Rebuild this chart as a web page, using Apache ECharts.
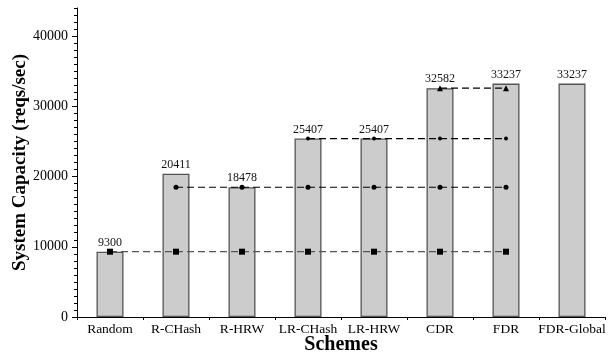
<!DOCTYPE html>
<html>
<head>
<meta charset="utf-8">
<script src="https://cdn.jsdelivr.net/npm/echarts@6/dist/echarts.min.js"></script>
<style>html,body{margin:0;padding:0;background:#fff;}#c{width:608px;height:354px;}</style>
</head>
<body>
<div id="c"></div>
<script>
const categories = ['Random', 'R-CHash', 'R-HRW', 'LR-CHash', 'LR-HRW', 'CDR', 'FDR', 'FDR-Global'];
const capacity = [9300, 20411, 18478, 25407, 25407, 32582, 33237, 33237];
const refRandom = [9300, 9300, 9300, 9300, 9300, 9300, 9300, null];
const refRHRW = [null, 18478, 18478, 18478, 18478, 18478, 18478, null];
const refLR = [null, null, null, 25407, 25407, 25407, 25407, null];
const refCDR = [null, null, null, null, null, 32582, 32582, null];
const yMajorTicks = [0, 10000, 20000, 30000, 40000];

const serif = '"Liberation Serif", "Times New Roman", serif';
const chart = echarts.init(document.getElementById('c'), null, {renderer: 'canvas'});

function refLine(data, symbol, size, color) {
  return {
    type: 'line', data: data, symbol: symbol, symbolSize: size,
    showSymbol: true, connectNulls: false, z: 5,
    lineStyle: {type: [7, 4], width: 1.2, color: color},
    itemStyle: {color: '#000'},
    emphasis: {disabled: true}, animation: false
  };
}

chart.setOption({
  animation: false,
  grid: {left: 77, right: 3, top: 8, bottom: 37, containLabel: false, outerBoundsMode: 'none'},
  xAxis: {
    type: 'category', data: categories, boundaryGap: true,
    axisLine: {lineStyle: {color: '#000', width: 1}},
    axisTick: {show: true, alignWithLabel: false, length: 3, lineStyle: {color: '#000'}},
    axisLabel: {color: '#000', fontFamily: serif, fontSize: 13.5, margin: 5, interval: 0},
    name: 'Schemes', nameLocation: 'middle', nameGap: 18, nameMoveOverlap: false,
    nameTextStyle: {color: '#000', fontFamily: serif, fontSize: 20, fontWeight: 'bold'},
    splitLine: {show: false}
  },
  yAxis: [{
    type: 'value', min: 0, max: 44000, interval: 1000,
    axisLine: {show: true, lineStyle: {color: '#000', width: 1}},
    axisTick: {show: true, length: 3, lineStyle: {color: '#000'}},
    axisLabel: {color: '#000', fontFamily: serif, fontSize: 14, margin: 9, customValues: yMajorTicks,
      formatter: function (v) { return String(v); }},
    splitLine: {show: false},
    name: 'System Capacity (reqs/sec)', nameLocation: 'middle', nameGap: 47, nameRotate: 90,
    nameMoveOverlap: false,
    nameTextStyle: {color: '#000', fontFamily: serif, fontSize: 19, fontWeight: 'bold'}
  }, {
    type: 'value', min: 0, max: 44000, interval: 10000, position: 'left',
    axisLine: {show: false},
    axisTick: {show: true, length: 5, lineStyle: {color: '#000'}, customValues: yMajorTicks},
    axisLabel: {show: false},
    splitLine: {show: false}
  }],
  series: [
    {
      type: 'bar', data: capacity, barWidth: 27, z: 2,
      itemStyle: {color: '#cccccc', borderColor: '#555', borderWidth: 1.3},
      label: {show: true, position: 'top', distance: 3, color: '#111', fontFamily: serif, fontSize: 12},
      emphasis: {disabled: true}
    },
    refLine(refRandom, 'rect', 6, '#555'),
    refLine(refRHRW, 'circle', 5, '#000'),
    refLine(refLR, 'circle', 4, '#000'),
    refLine(refCDR, 'triangle', 6, '#000')
  ]
});
</script>
</body>
</html>
